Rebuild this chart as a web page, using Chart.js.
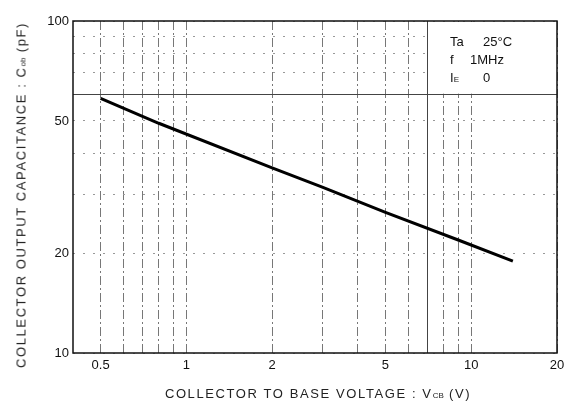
<!DOCTYPE html>
<html>
<head>
<meta charset="utf-8">
<script src="https://cdn.jsdelivr.net/npm/chart.js@4.4.0/dist/chart.umd.min.js"></script>
<style>
  body { margin: 0; background: #fff; }
  #wrap { position: relative; width: 576px; height: 412px; font-family: "Liberation Sans", Arial, sans-serif; color: #111; }
  #chart { position: absolute; left: 0; top: 0; }
  .ytitle { position: absolute; left: 21px; top: 195px; transform: translate(-50%, -50%) rotate(-90deg); white-space: nowrap; font-size: 13px; letter-spacing: 1.6px; color: #222; }
  .xtitle { position: absolute; left: 318px; top: 393px; transform: translate(-50%, -50%); white-space: nowrap; font-size: 13px; letter-spacing: 1.6px; color: #222; }
  .sub { font-size: 8px; letter-spacing: 0; }
  .cond { position: absolute; left: 450px; top: 33px; font-size: 13px; line-height: 18px; }
  .cond span.v { position: absolute; left: 33px; }
</style>
</head>
<body>
<div id="wrap">
  <canvas id="chart" width="576" height="412"></canvas>
  <div class="ytitle">COLLECTOR OUTPUT CAPACITANCE : C<span class="sub">ob</span> (pF)</div>
  <div class="xtitle">COLLECTOR TO BASE VOLTAGE : V<span class="sub">CB</span> (V)</div>
  <div class="cond">
    <div>Ta <span class="v">25°C</span></div>
    <div>f <span class="v" style="left:20px">1MHz</span></div>
    <div>I<span class="sub">E</span> <span class="v">0</span></div>
  </div>
</div>
<script>
// Cob vs VCB
let vcb = [0.5, 0.8, 2, 3, 5, 9, 14];
let cob = [58.5, 49.2, 36.1, 31.6, 26.5, 21.9, 18.9];

let xGrid = [0.5, 0.6, 0.7, 0.8, 0.9, 1, 2, 3, 4, 5, 6, 7, 8, 9, 10, 20];
let xLabels = [0.5, 1, 2, 5, 10, 20];
let yGrid = [10, 20, 30, 40, 50, 60, 70, 80, 90, 100];
let yLabels = [10, 20, 50, 100];

let points = vcb.map((v, i) => ({ x: v, y: cob[i] }));

// blank the grid behind the conditions box, then frame the plot
let boxPlugin = {
    id: "box",
    beforeDatasetsDraw(chart) {
        let ctx = chart.ctx;
        let a = chart.chartArea;
        let x1 = chart.scales.x.getPixelForValue(7);
        let y2 = chart.scales.y.getPixelForValue(60);
        ctx.save();
        ctx.fillStyle = "#fff";
        ctx.fillRect(x1 + 1, a.top + 1, a.right - x1 - 2, y2 - a.top - 2);
        ctx.restore();
    },
    afterDraw(chart) {
        let ctx = chart.ctx;
        let a = chart.chartArea;
        ctx.save();
        ctx.strokeStyle = "#111";
        ctx.lineWidth = 1.5;
        ctx.strokeRect(a.left, a.top, a.right - a.left, a.bottom - a.top);
        ctx.restore();
    }
};

let font = { family: "'Liberation Sans', Arial, sans-serif", size: 13 };

new Chart(document.getElementById("chart").getContext("2d"), {
    type: "scatter",
    data: {
        datasets: [{
            data: points,
            showLine: true,
            borderColor: "#000",
            borderWidth: 3,
            pointRadius: 0,
            tension: 0
        }]
    },
    options: {
        responsive: false,
        animation: false,
        layout: { padding: { top: 21, right: 19, left: 0, bottom: 0 } },
        plugins: { legend: { display: false }, tooltip: { enabled: false } },
        scales: {
            x: {
                type: "logarithmic",
                min: 0.4,
                max: 20,
                afterBuildTicks: s => { s.ticks = xGrid.map(v => ({ value: v })); },
                afterFit: s => { s.height = 59; },
                ticks: {
                    autoSkip: false,
                    maxRotation: 0,
                    padding: 5,
                    color: "#111",
                    font: font,
                    callback: v => xLabels.includes(v) ? String(v) : ""
                },
                grid: {
                    drawTicks: false,
                    lineWidth: 1,
                    color: c => (c.tick && c.tick.value === 7) ? "#444" : "#777"
                },
                border: {
                    display: false,
                    dash: c => (c.tick && c.tick.value === 7) ? [] : [9, 3, 2, 3]
                }
            },
            y: {
                type: "logarithmic",
                min: 10,
                max: 100,
                afterBuildTicks: s => { s.ticks = yGrid.map(v => ({ value: v })); },
                afterFit: s => { s.width = 73; },
                ticks: {
                    autoSkip: false,
                    padding: 4,
                    color: "#111",
                    font: font,
                    callback: v => yLabels.includes(v) ? String(v) : ""
                },
                grid: {
                    drawTicks: false,
                    lineWidth: 1,
                    color: c => (c.tick && c.tick.value === 60) ? "#444" : "#999"
                },
                border: {
                    display: false,
                    dash: c => (c.tick && c.tick.value === 60) ? [] : [2, 8]
                }
            }
        }
    },
    plugins: [boxPlugin]
});
</script>
</body>
</html>
